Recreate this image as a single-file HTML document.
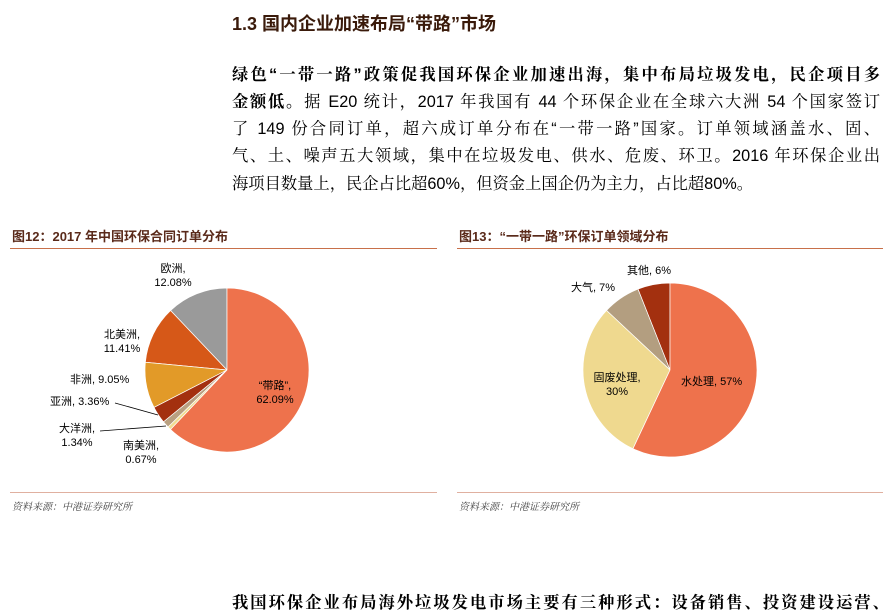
<!DOCTYPE html>
<html><head><meta charset="utf-8">
<style>
body{margin:0;width:889px;height:613px;background:#fff;position:relative;overflow:hidden;font-family:"Liberation Sans","Noto Sans CJK SC",sans-serif;color:#000}
.a{position:absolute;white-space:nowrap}
.h{left:232px;top:10px;font-size:18px;font-weight:bold;color:#3a1a0a}
.p{position:absolute;left:232px;width:648px;font-size:16.3px;height:27px;line-height:27px;text-align:justify;text-align-last:justify;white-space:nowrap;font-family:"Liberation Sans","Noto Serif CJK SC",serif}
.ct{font-size:13px;font-weight:bold;color:#5a2a1a;top:226px}
.rule{position:absolute;height:1px;background:#c8704a}
.src{font-size:10px;font-style:italic;color:#444;top:498px;font-family:"Noto Serif CJK SC",serif}
.l{position:absolute;font-size:11px;line-height:14px;text-align:center;white-space:nowrap}
</style></head><body>
<div class="a h">1.3 国内企业加速布局“带路”市场</div>
<div class="p" style="top:62px;font-weight:bold">绿色“一带一路”政策促我国环保企业加速出海，集中布局垃圾发电，民企项目多</div>
<div class="p" style="top:89px"><b>金额低。</b>据 E20 统计，2017 年我国有 44 个环保企业在全球六大洲 54 个国家签订</div>
<div class="p" style="top:116px">了 149 份合同订单，超六成订单分布在“一带一路”国家。订单领域涵盖水、固、</div>
<div class="p" style="top:143px">气、土、噪声五大领域，集中在垃圾发电、供水、危废、环卫。2016 年环保企业出</div>
<div class="p" style="top:171px;text-align-last:left">海项目数量上，民企占比超60%，但资金上国企仍为主力，占比超80%。</div>

<div class="a ct" style="left:12px">图12：2017 年中国环保合同订单分布</div>
<div class="a ct" style="left:459px">图13：“一带一路”环保订单领域分布</div>
<div class="rule" style="left:10px;width:427px;top:248px"></div>
<div class="rule" style="left:457px;width:426px;top:248px"></div>
<div class="rule" style="left:10px;width:427px;top:492px;background:#e0b0a0"></div>
<div class="rule" style="left:457px;width:426px;top:492px;background:#e0b0a0"></div>
<div class="a src" style="left:12px">资料来源：中港证券研究所</div>
<div class="a src" style="left:459px">资料来源：中港证券研究所</div>

<svg id="s" width="889" height="613" style="position:absolute;left:0;top:0">
<line x1="115" y1="403" x2="158" y2="415" stroke="#000" stroke-width="0.8"/>
<line x1="100" y1="431" x2="166" y2="426" stroke="#000" stroke-width="0.8"/>
</svg>

<div class="l" style="left:143px;top:262px;width:60px">欧洲,<br>12.08%</div>
<div class="l" style="left:92px;top:328px;width:60px">北美洲,<br>11.41%</div>
<div class="l" style="left:70px;top:373px">非洲, 9.05%</div>
<div class="l" style="left:50px;top:395px">亚洲, 3.36%</div>
<div class="l" style="left:47px;top:422px;width:60px">大洋洲,<br>1.34%</div>
<div class="l" style="left:111px;top:439px;width:60px">南美洲,<br>0.67%</div>
<div class="l" style="left:240px;top:379px;width:70px">“带路”,<br>62.09%</div>
<div class="l" style="left:627px;top:264px">其他, 6%</div>
<div class="l" style="left:571px;top:281px">大气, 7%</div>
<div class="l" style="left:582px;top:371px;width:70px">固废处理,<br>30%</div>
<div class="l" style="left:681px;top:375px">水处理, 57%</div>

<script>
function pie(cx,cy,r,data){
 var s=document.getElementById('s'),a=0,ns='http://www.w3.org/2000/svg';
 data.forEach(function(d){
  var a2=a+d[0]/100*2*Math.PI;
  var x1=cx+r*Math.sin(a),y1=cy-r*Math.cos(a),x2=cx+r*Math.sin(a2),y2=cy-r*Math.cos(a2);
  var p=document.createElementNS(ns,'path');
  p.setAttribute('d','M'+cx+','+cy+'L'+x1+','+y1+'A'+r+','+r+' 0 '+((a2-a)>Math.PI?1:0)+' 1 '+x2+','+y2+'Z');
  p.setAttribute('fill',d[1]);p.setAttribute('stroke','#fff');p.setAttribute('stroke-width','0.7');
  s.insertBefore(p,s.firstChild);a=a2;
 });
}
pie(227,370,82,[[62.09,'#ee724c'],[0.67,'#f0dc90'],[1.34,'#b9a080'],[3.36,'#a3300f'],[9.05,'#e29a28'],[11.41,'#d65818'],[12.08,'#9a9a9a']]);
pie(670,370,87,[[57,'#ee724c'],[30,'#efd98f'],[7,'#b39e80'],[6,'#a3300f']]);
</script>

<div class="a" style="left:232px;top:589px;font-size:16.3px;font-weight:bold;width:657px;text-align:justify;text-align-last:justify;font-family:'Liberation Sans','Noto Serif CJK SC',serif">我国环保企业布局海外垃圾发电市场主要有三种形式：设备销售、投资建设运营、</div>
</body></html>
